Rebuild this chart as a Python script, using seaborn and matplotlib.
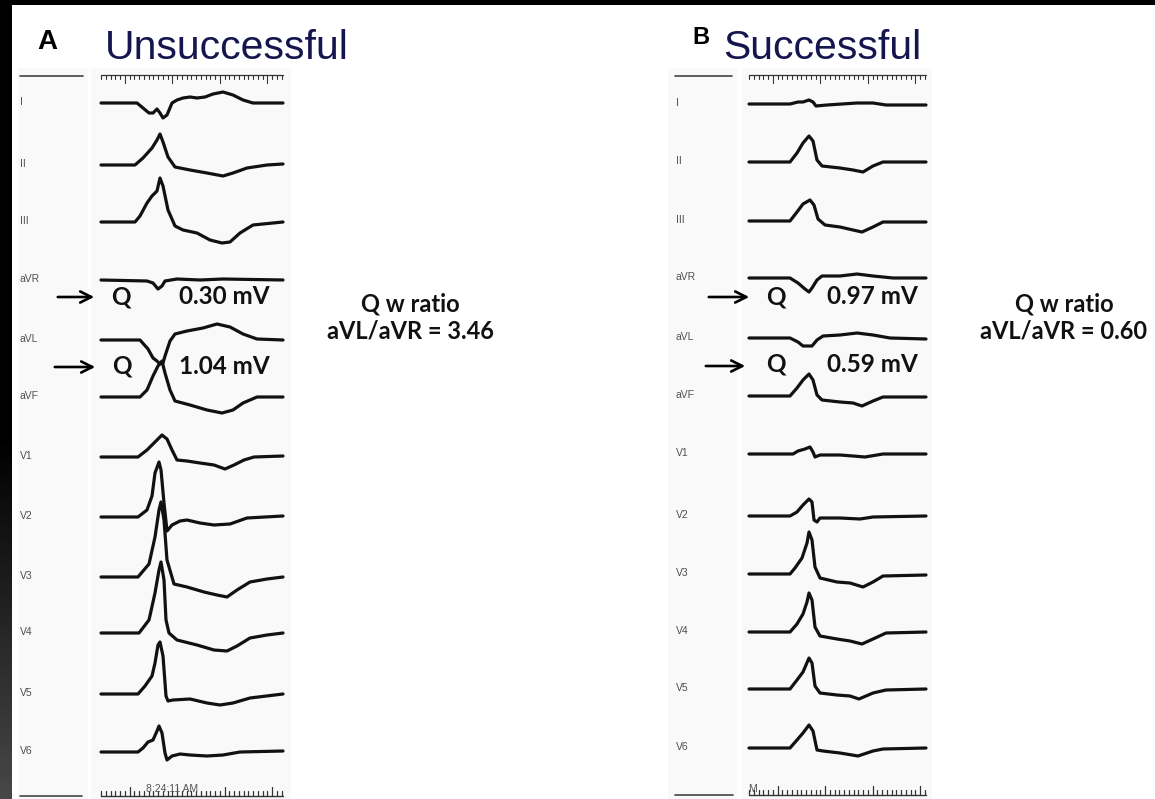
import numpy as np
import pandas as pd
import matplotlib
matplotlib.use("Agg")
import matplotlib.pyplot as plt
from matplotlib.patches import Rectangle
import seaborn as sns

sns.set_theme(style="white")
plt.rcParams['font.family'] = ['Liberation Sans', 'DejaVu Sans']

# ---------------- data ----------------
LEADS = ["I", "II", "III", "aVR", "aVL", "aVF", "V1", "V2", "V3", "V4", "V5", "V6"]

# Panel A (Unsuccessful) traces: (time offset px, deflection px, up positive)
A_I = [(0,0),(36,0),(42,-5),(48,-10),(52,-10),(56,-6),(59,-10),(62,-15),(66,-12),(71,0),(76,3),(82,5),(89,6),(96,5),(104,6),(112,9),(122,11),(132,8),(142,3),(152,0),(182,0)]
A_II = [(0,0),(34,0),(42,7),(51,17),(56,25),(59,31),(62,23),(67,8),(74,-2),(89,-5),(106,-8),(122,-11),(132,-8),(146,-3),(166,0),(182,1)]
A_III = [(0,0),(34,0),(39,6),(46,19),(51,26),(56,31),(59,44),(62,36),(67,12),(74,-4),(82,-8),(96,-11),(109,-18),(121,-21),(129,-20),(139,-11),(152,-3),(182,0)]
A_aVR = [(0,0),(46,-1),(52,-3),(57,-9),(61,-6),(64,-1),(76,1),(99,0),(122,1),(182,0)]
A_aVL = [(0,0),(39,0),(47,-9),(52,-18),(56,-21),(59,-24),(62,-23),(64,-16),(69,-1),(74,6),(86,9),(102,12),(116,16),(129,13),(142,6),(156,1),(182,0)]
A_aVF = [(0,0),(39,0),(46,7),(52,21),(57,31),(61,36),(64,24),(69,7),(74,-4),(89,-8),(106,-13),(121,-16),(132,-13),(142,-6),(156,0),(182,0)]
A_V1 = [(0,0),(37,0),(46,7),(54,15),(61,22),(66,18),(71,7),(76,-3),(86,-4),(99,-6),(113,-8),(124,-12),(133,-8),(143,-3),(153,0),(182,1)]
A_V2 = [(0,0),(37,0),(46,7),(51,21),(54,44),(58,55),(60,47),(63,14),(66,-14),(71,-8),(79,-4),(86,-3),(99,-6),(113,-8),(129,-7),(146,-1),(182,1)]
A_V3 = [(0,0),(37,0),(48,13),(54,40),(58,67),(60,75),(63,57),(66,17),(73,-7),(86,-10),(103,-15),(116,-18),(126,-20),(136,-13),(149,-5),(166,-2),(182,0)]
A_V4 = [(0,0),(38,0),(48,13),(54,40),(58,63),(60,71),(63,53),(65,13),(68,0),(76,-7),(96,-12),(113,-17),(126,-18),(136,-13),(149,-5),(166,-2),(182,0)]
A_V5 = [(0,0),(37,0),(44,8),(51,18),(54,31),(57,49),(59,52),(62,38),(65,-2),(67,-7),(72,-6),(89,-5),(106,-9),(119,-11),(132,-9),(149,-4),(182,0)]
A_V6 = [(0,0),(37,0),(42,4),(47,10),(52,12),(56,21),(58,26),(61,19),(64,-1),(66,-8),(71,-4),(79,-2),(89,-3),(106,-4),(122,-3),(139,0),(182,1)]

# Panel B (Successful) traces
B_I = [(0,0),(41,0),(49,2),(54,2),(60,4),(64,2),(67,-2),(78,-1),(108,1),(124,1),(137,-1),(177,-1)]
B_II = [(0,0),(41,0),(48,9),(54,19),(60,26),(64,21),(68,2),(73,-4),(91,-6),(104,-8),(114,-10),(124,-4),(134,0),(177,0)]
B_III = [(0,0),(41,0),(48,9),(54,17),(61,21),(65,16),(69,2),(76,-4),(91,-6),(104,-9),(113,-11),(124,-6),(134,-1),(177,-1)]
B_aVR = [(0,0),(41,0),(49,-5),(56,-11),(60,-14),(63,-10),(68,-2),(73,2),(91,2),(108,4),(124,2),(144,0),(177,0)]
B_aVL = [(0,0),(41,0),(49,-4),(54,-8),(63,-8),(68,-2),(74,2),(91,3),(108,5),(124,3),(141,0),(177,-1)]
B_aVF = [(0,0),(41,0),(48,8),(54,16),(60,22),(64,16),(68,1),(73,-4),(91,-6),(104,-7),(113,-10),(124,-5),(134,-1),(177,-1)]
B_V1 = [(0,0),(44,0),(49,3),(56,5),(61,7),(64,2),(66,-3),(71,-1),(91,-1),(104,-2),(116,-3),(134,0),(177,0)]
B_V2 = [(0,0),(41,0),(48,4),(54,11),(60,17),(63,14),(65,-4),(68,-6),(71,-2),(91,-2),(111,-3),(124,-1),(177,0)]
B_V3 = [(0,0),(41,0),(46,6),(53,16),(58,31),(60,42),(63,34),(66,7),(71,-4),(88,-8),(101,-9),(114,-13),(124,-8),(134,-2),(177,-1)]
B_V4 = [(0,0),(41,0),(48,8),(54,18),(58,30),(60,39),(63,32),(66,5),(71,-4),(88,-7),(101,-9),(113,-12),(124,-7),(137,-1),(177,0)]
B_V5 = [(0,0),(41,0),(48,9),(54,17),(60,31),(63,26),(66,3),(71,-4),(88,-6),(101,-7),(110,-10),(124,-4),(137,-1),(177,0)]
B_V6 = [(0,0),(41,0),(48,8),(54,15),(60,23),(64,17),(68,-2),(74,-3),(91,-5),(109,-8),(124,-3),(134,-1),(177,0)]

A_TRACES = [A_I, A_II, A_III, A_aVR, A_aVL, A_aVF, A_V1, A_V2, A_V3, A_V4, A_V5, A_V6]
B_TRACES = [B_I, B_II, B_III, B_aVR, B_aVL, B_aVF, B_V1, B_V2, B_V3, B_V4, B_V5, B_V6]

A_Q_VALUES = ["0.30 mV", "1.04 mV"]
B_Q_VALUES = ["0.97 mV", "0.59 mV"]
A_RATIO = "3.46"
B_RATIO = "0.60"
A_TIME = "8:24:11 AM"

# ---------------- layout ----------------
W, H = 1155, 799
A_X0, B_X0 = 101, 749
A_BASE = [103, 165, 222, 280, 340, 397, 457, 517, 577, 633, 694, 752]
B_BASE = [104, 162, 221, 278, 338, 396, 454, 516, 574, 632, 689, 748]

fig = plt.figure(figsize=(W / 100, H / 100), dpi=100)
fig.patch.set_facecolor("white")
ax = fig.add_axes([0, 0, 1, 1])
ax.set_xlim(0, W)
ax.set_ylim(H, 0)
ax.axis("off")

# faint gray paper columns
for (x0, x1) in [(18, 88), (91, 291), (668, 737), (742, 932)]:
    ax.add_patch(Rectangle((x0, 68), x1 - x0, H - 68, facecolor="#f9f9f9", edgecolor="none", zorder=0))

# black frame strips (left strip fades to dark gray at the bottom)
grad = np.linspace(0, 1, 200).reshape(-1, 1)
grad = np.clip((grad - 0.55) / 0.45, 0, 1) * 0.28
ax.imshow(grad, extent=(0, 12, H, 0), cmap="gray", vmin=0, vmax=1, aspect="auto", zorder=5)
ax.add_patch(Rectangle((0, 0), W, 5, facecolor="black", edgecolor="none", zorder=5))

# build the long dataframe of traces
rows = []
for panel, x0, bases, traces in [("A", A_X0, A_BASE, A_TRACES), ("B", B_X0, B_BASE, B_TRACES)]:
    for lead, base, pts in zip(LEADS, bases, traces):
        for i, (dx, dy) in enumerate(pts):
            rows.append({"trace": f"{panel}_{lead}", "order": i, "x": x0 + dx, "y": base - dy})
df = pd.DataFrame(rows)
sns.lineplot(data=df, x="x", y="y", units="trace", estimator=None, sort=False,
             color="#111111", lw=2.3, ax=ax, legend=False, zorder=3)
for line in ax.get_lines():
    line.set_solid_joinstyle("round")
    line.set_solid_capstyle("round")
ax.set_xlim(0, W)
ax.set_ylim(H, 0)
ax.set_xlabel("")
ax.set_ylabel("")
ax.axis("off")

# lead labels
for lab_x, bases in [(20, A_BASE), (676, B_BASE)]:
    for lead, base in zip(LEADS, bases):
        ax.text(lab_x, base - 1, lead, fontsize=7.5, color="#505050", ha="left", va="center")

# rulers
def top_ruler(x0, x1, y):
    ax.plot([x0, x1], [y, y], color="#333333", lw=0.9, zorder=2)
    xs = np.arange(x0, x1 + 0.1, 4.75)
    for k, x in enumerate(xs):
        L = 8 if k % 10 == 5 else 4
        ax.plot([x, x], [y, y + L], color="#333333", lw=0.8, zorder=2)

def bottom_ruler(x0, x1, y):
    ax.plot([x0, x1], [y, y], color="#333333", lw=1.0, zorder=2)
    xs = np.arange(x0, x1 + 0.1, 4.75)
    for k, x in enumerate(xs):
        L = 9 if k % 10 == 6 else 5
        ax.plot([x, x], [y, y - L], color="#333333", lw=0.9, zorder=2)

top_ruler(A_X0, A_X0 + 182, 75)
top_ruler(B_X0, B_X0 + 177, 75)
bottom_ruler(A_X0, A_X0 + 182, 796)
bottom_ruler(B_X0, B_X0 + 177, 795)
ax.text(172, 789, A_TIME, fontsize=7.5, color="#555555", ha="center", va="center", zorder=4)
ax.text(748, 789, "M", fontsize=7.5, color="#555555", ha="left", va="center", zorder=4)

# short gray lines at left of label columns
for (x0, x1, y) in [(20, 83, 76), (20, 82, 796), (675, 732, 76), (675, 733, 795)]:
    ax.plot([x0, x1], [y, y], color="#444444", lw=1.2, zorder=2)

# titles
ax.text(37, 42, "A", fontsize=20, fontweight="bold", color="black", ha="left", va="center")
ax.text(105, 59, "Unsuccessful", fontsize=29.5, color="#16164f", ha="left", va="baseline")
ax.text(692, 38, "B", fontsize=17, fontweight="bold", color="black", ha="left", va="center")
ax.text(723, 59, "Successful", fontsize=29.5, color="#16164f", ha="left", va="baseline")

# arrows, Q labels, values
tfam = ["Lato", "DejaVu Sans"]
for (ax0, ax1, ay), qx, (vx, vy, val) in [
        ((55, 97, 297), 121, (224, 297, A_Q_VALUES[0])),
        ((52, 98, 367), 122, (224, 366, A_Q_VALUES[1])),
        ((706, 752, 297), 776, (872, 297, B_Q_VALUES[0])),
        ((703, 748, 366), 776, (872, 364, B_Q_VALUES[1]))]:
    ax.annotate("", xy=(ax1, ay), xytext=(ax0, ay),
                arrowprops=dict(arrowstyle="->", lw=1.9, color="black", mutation_scale=20))
    ax.text(qx, vy, "Q", fontsize=17.5, fontweight="bold", color="#111111", ha="center", va="center", family=tfam)
    ax.text(vx, vy, val, fontsize=17.5, fontweight="bold", color="#111111", ha="center", va="center", family=tfam)

for cx, ratio in [(410, A_RATIO), (1064, B_RATIO)]:
    ax.text(cx, 304, "Q w ratio", fontsize=17, fontweight="bold", color="#111111", ha="center", va="center", family=tfam)
    ax.text(cx, 331, f"aVL/aVR = {ratio}", fontsize=17, fontweight="bold", color="#111111", ha="center", va="center", family=tfam)

fig.savefig("out.png", dpi=100, facecolor="white")
